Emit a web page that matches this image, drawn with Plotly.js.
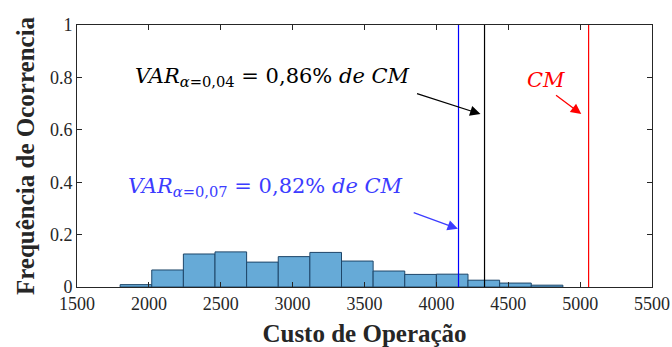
<!DOCTYPE html>
<html>
<head>
<meta charset="utf-8">
<script src="https://cdn.plot.ly/plotly-3.0.1.min.js"></script>
<style>html,body{margin:0;padding:0;background:#fff;}#chart{width:672px;height:347px;}</style>
</head>
<body>
<div id="chart"></div>
<script>
// Histogram bins (left edges) and relative frequencies
const binEdges = [1800, 2020, 2240, 2460, 2680, 2900, 3120, 3340, 3560, 3780, 4000, 4220, 4440, 4660];
const binWidth = 220;
const freq = [0.009, 0.065, 0.126, 0.134, 0.095, 0.116, 0.132, 0.099, 0.061, 0.048, 0.049, 0.026, 0.015, 0.007];

// Reference lines
const varA07 = 4154;   // VAR alpha=0,07 (blue)
const varA04 = 4335;   // VAR alpha=0,04 (black)
const cmValue = 5059;  // CM (red)

// Axis ticks
const xTicks = [1500, 2000, 2500, 3000, 3500, 4000, 4500, 5000, 5500];
const yTicks = [0, 0.2, 0.4, 0.6, 0.8, 1];
const yTickText = ['0', '0.2', '0.4', '0.6', '0.8', '1'];

const SERIF = '"Times New Roman", "Liberation Serif", "DejaVu Serif", serif';
const MATH = '"DejaVu Serif", serif';

const traces = [
  {
    type: 'bar',
    x: binEdges,
    y: freq,
    width: binWidth,
    offset: 0,
    marker: {color: 'rgb(102,170,215)', line: {color: 'rgb(30,70,105)', width: 1}},
    hoverinfo: 'none'
  },
  {type: 'scatter', mode: 'lines', x: [varA07, varA07], y: [0, 1], line: {color: 'rgb(0,0,255)', width: 1.2}},
  {type: 'scatter', mode: 'lines', x: [varA04, varA04], y: [0, 1], line: {color: 'rgb(0,0,0)', width: 1.2}},
  {type: 'scatter', mode: 'lines', x: [cmValue, cmValue], y: [0, 1], line: {color: 'rgb(255,0,0)', width: 1.2}}
];

const layout = {
  width: 672, height: 347,
  margin: {l: 77, r: 20, t: 25, b: 60},
  paper_bgcolor: '#fff', plot_bgcolor: '#fff',
  showlegend: false,
  bargap: 0,
  font: {family: SERIF, color: '#262626', size: 18},
  xaxis: {
    range: [1500, 5500], tickvals: xTicks, ticktext: xTicks.map(String),
    ticks: 'inside', ticklen: 5, tickcolor: '#262626', mirror: 'ticks',
    showline: true, linecolor: '#262626', linewidth: 1, showgrid: false, zeroline: false,
    tickfont: {family: SERIF, size: 18, color: '#262626'},
    title: {text: '<b>Custo de Operação</b>', font: {family: SERIF, size: 25, color: '#262626'}, standoff: 11}
  },
  yaxis: {
    range: [0, 1], tickvals: yTicks, ticktext: yTickText,
    ticks: 'inside', ticklen: 5, tickcolor: '#262626', mirror: 'ticks',
    showline: true, linecolor: '#262626', linewidth: 1, showgrid: false, zeroline: false,
    tickfont: {family: SERIF, size: 18, color: '#262626'},
    title: {text: '<b>Frequência de Ocorrencia</b>', font: {family: SERIF, size: 25, color: '#262626'}, standoff: 8}
  },
  annotations: [
    {x: 0.097, y: 0.80, xref: 'paper', yref: 'y', xanchor: 'left', showarrow: false,
     text: '<i>VAR</i><sub><i>α</i>=0,04</sub> = 0,86% <i>de CM</i>',
     font: {family: MATH, size: 21, color: '#000'}},
    {x: 0.085, y: 0.38, xref: 'paper', yref: 'y', xanchor: 'left', showarrow: false,
     text: '<i>VAR</i><sub><i>α</i>=0,07</sub> = 0,82% <i>de CM</i>',
     font: {family: MATH, size: 21, color: 'rgb(60,60,255)'}},
    {x: 4763, y: 0.79, xref: 'x', yref: 'y', showarrow: false,
     text: '<i>CM</i>', font: {family: MATH, size: 21, color: 'rgb(255,0,0)'}},
    {x: varA04 - 28, y: 0.66, ax: 3855, ay: 0.74, xref: 'x', yref: 'y', axref: 'x', ayref: 'y',
     text: '', showarrow: true, arrowhead: 2, arrowsize: 1.6, arrowwidth: 1.3, arrowcolor: '#000'},
    {x: varA07 - 4, y: 0.222, ax: 3832, ay: 0.286, xref: 'x', yref: 'y', axref: 'x', ayref: 'y',
     text: '', showarrow: true, arrowhead: 2, arrowsize: 1.6, arrowwidth: 1.3, arrowcolor: 'rgb(60,60,255)'},
    {x: cmValue - 51, y: 0.66, ax: 4822, ay: 0.736, xref: 'x', yref: 'y', axref: 'x', ayref: 'y',
     text: '', showarrow: true, arrowhead: 2, arrowsize: 1.6, arrowwidth: 1.3, arrowcolor: 'rgb(255,0,0)'}
  ]
};

Plotly.newPlot('chart', traces, layout, {staticPlot: true, displayModeBar: false});
</script>
</body>
</html>
